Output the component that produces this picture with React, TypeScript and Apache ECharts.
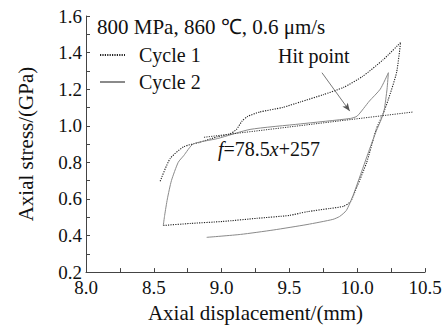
import React, { useEffect, useRef } from "react";
import * as echarts from "echarts";

const FONT = "Liberation Serif";

const xTicks = { min: 8.0, max: 10.5, step: 0.5 };
const yTicks = { min: 0.2, max: 1.6, step: 0.2 };

const seriesNames = ["Cycle 1", "Cycle 2"];

// Cycle 1 (dotted): bottom left -> bottom right -> steep rise -> upper curve back left
const cycle1X = [8.57, 8.77, 9.01, 9.26, 9.5, 9.63, 9.8, 9.9, 9.95, 10.0, 10.07, 10.14, 10.19, 10.23, 10.29, 10.32,
  10.19, 10.04, 9.9, 9.75, 9.58, 9.45, 9.28, 9.19, 9.15, 9.11, 9.06, 8.97, 8.84, 8.72, 8.62, 8.546];
const cycle1Y = [0.455, 0.466, 0.477, 0.494, 0.51, 0.53, 0.548, 0.56, 0.585, 0.67, 0.80, 0.98, 1.064, 1.145, 1.29, 1.455,
  1.36, 1.27, 1.21, 1.17, 1.13, 1.10, 1.075, 1.05, 1.025, 0.98, 0.955, 0.94, 0.91, 0.885, 0.82, 0.695];

// Cycle 2 (solid grey)
const cycle2X = [8.89, 9.14, 9.38, 9.63, 9.82, 9.87, 9.92, 9.97, 10.04, 10.09, 10.14, 10.18, 10.2, 10.22, 10.23,
  10.17, 10.09, 10.0, 9.95, 9.58, 9.21, 8.97, 8.79, 8.72, 8.68, 8.63, 8.6, 8.58, 8.57];
const cycle2Y = [0.39, 0.406, 0.43, 0.46, 0.488, 0.504, 0.537, 0.62, 0.765, 0.87, 0.97, 1.04, 1.09, 1.2, 1.29,
  1.2, 1.135, 1.053, 1.04, 1.01, 0.98, 0.93, 0.90, 0.836, 0.80, 0.70, 0.60, 0.51, 0.455];

// Fitted line f = 78.5x + 257 (end points)
const fitX = [8.87, 10.41];
const fitY = [0.937, 1.075];

// Hit point arrow (tail, head)
const arrowX = [9.74, 9.945];
const arrowY = [1.29, 1.08];

const titleText = "800 MPa, 860 \u2103, 0.6 \u03bcm/s";

function pairs(xs: number[], ys: number[]) {
  return xs.map((x, i) => [x, ys[i]]);
}

export default function App() {
  const ref = useRef<HTMLDivElement>(null);
  useEffect(() => {
    if (!ref.current) return;
    const chart = echarts.init(ref.current, null, { renderer: "svg" });
    const axisColor = "#444";
    chart.setOption({
      animation: false,
      backgroundColor: "#fff",
      textStyle: { fontFamily: FONT },
      title: {
        text: titleText,
        left: 97,
        top: 16,
        padding: 0,
        textStyle: { fontFamily: FONT, fontSize: 21, fontWeight: "normal", color: "#111" },
      },
      legend: {
        data: seriesNames,
        orient: "vertical",
        left: 99,
        top: 45,
        padding: 0,
        itemWidth: 25,
        itemHeight: 14,
        itemGap: 7,
        itemStyle: { opacity: 0, borderWidth: 0 },
        textStyle: { fontFamily: FONT, fontSize: 20, color: "#111", padding: [0, 0, 0, 9] },
      },
      grid: { left: 86, right: 21, top: 16, bottom: 54 },
      xAxis: {
        type: "value",
        min: xTicks.min,
        max: xTicks.max,
        interval: xTicks.step,
        name: "Axial displacement/(mm)",
        nameLocation: "middle",
        nameGap: 28,
        nameTextStyle: { fontFamily: FONT, fontSize: 21, color: "#111" },
        axisLine: { show: true, lineStyle: { color: axisColor, width: 1 } },
        axisTick: { show: true, inside: true, length: 4, lineStyle: { color: axisColor } },
        minorTick: { show: true, splitNumber: 2, length: 4, lineStyle: { color: axisColor } },
        splitLine: { show: false },
        axisLabel: {
          fontFamily: FONT,
          fontSize: 19,
          color: "#111",
          margin: 6,
          formatter: (v: number) => v.toFixed(1),
        },
      },
      yAxis: {
        type: "value",
        min: yTicks.min,
        max: yTicks.max,
        interval: yTicks.step,
        name: "Axial stress/(GPa)",
        nameLocation: "middle",
        nameGap: 50,
        nameTextStyle: { fontFamily: FONT, fontSize: 21, color: "#111" },
        axisLine: { show: true, lineStyle: { color: axisColor, width: 1 } },
        axisTick: { show: true, inside: true, length: 4, lineStyle: { color: axisColor } },
        minorTick: { show: true, splitNumber: 2, length: 4, lineStyle: { color: axisColor } },
        splitLine: { show: false },
        axisLabel: {
          fontFamily: FONT,
          fontSize: 19,
          color: "#111",
          margin: 4,
          formatter: (v: number) => v.toFixed(1),
        },
      },
      series: [
        {
          name: seriesNames[0],
          type: "line",
          data: pairs(cycle1X, cycle1Y),
          symbol: "none",
          smooth: 0.2,
          lineStyle: { color: "#222", width: 1.1, type: [1.2, 1.2] },
          itemStyle: { color: "#222" },
        },
        {
          name: seriesNames[1],
          type: "line",
          data: pairs(cycle2X, cycle2Y),
          symbol: "none",
          smooth: 0.2,
          lineStyle: { color: "#8a8a8a", width: 1 },
          itemStyle: { color: "#8a8a8a" },
        },
        {
          name: "fit",
          type: "line",
          data: pairs(fitX, fitY),
          symbol: "none",
          lineStyle: { color: "#333", width: 1, type: [1.2, 1.2] },
          markLine: {
            silent: true,
            symbol: ["none", "arrow"],
            symbolSize: [5, 8],
            label: { show: false },
            lineStyle: { color: "#555", width: 0.8, type: "solid" },
            data: [
              [
                { coord: [arrowX[0], arrowY[0]] },
                { coord: [arrowX[1], arrowY[1]] },
              ],
            ],
          },
        },
      ],
      graphic: [
        {
          type: "text",
          left: 278,
          top: 46,
          style: { text: "Hit point", fontFamily: FONT, fontSize: 20, fill: "#111" },
        },
        {
          type: "text",
          left: 218,
          top: 139,
          style: {
            text: "{i|f}{n|=78.5}{i|x}{n|+257}",
            fontFamily: FONT,
            fontSize: 20,
            fill: "#111",
            rich: {
              i: { fontFamily: FONT, fontSize: 20, fontStyle: "italic", fill: "#111" },
              n: { fontFamily: FONT, fontSize: 20, fill: "#111" },
            },
          },
        },
      ],
    });
    return () => chart.dispose();
  }, []);
  return (
    <div
      ref={ref}
      style={{ position: "fixed", left: 0, top: 0, width: 446, height: 328, background: "#fff" }}
    />
  );
}
